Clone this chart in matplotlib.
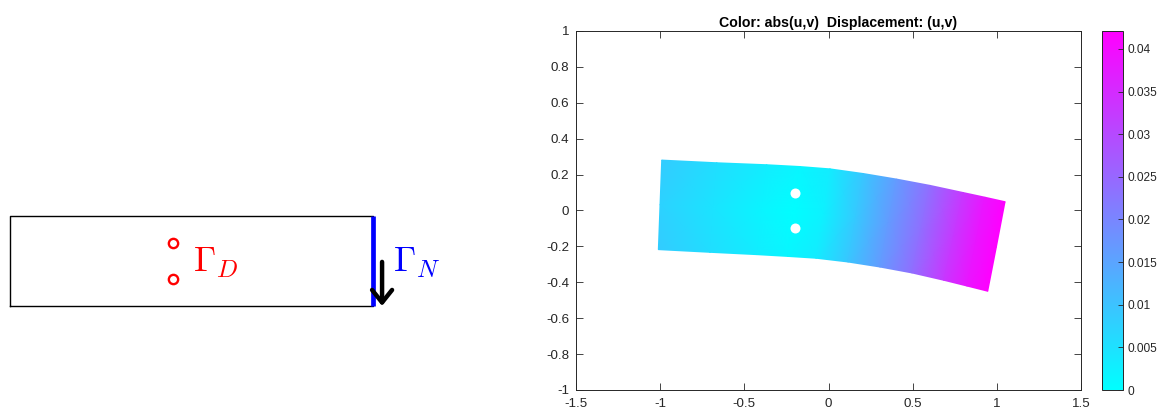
"""Clamped beam sketch next to its deformed displacement field."""

import matplotlib
matplotlib.use("Agg")
import matplotlib.pyplot as plt
import numpy as np

W, H = 1158, 411

# left sketch, in domain units
BEAM_X = [-1, 1, 1, -1, -1]
BEAM_Y = [-0.25, -0.25, 0.25, 0.25, -0.25]
HOLE_X = [-0.1, -0.1]
HOLE_Y = [0.1, -0.1]

# deformed beam read along top, middle and bottom edges
TOP_X = [-0.991, -0.664, -0.367, -0.169, 0.009, 0.207, 0.405, 0.603, 0.801, 0.930, 1.049]
TOP_Y = [0.281, 0.266, 0.255, 0.245, 0.232, 0.206, 0.175, 0.140, 0.100, 0.074, 0.049]
MID_X = [-1.001, -0.684, -0.396, -0.205, -0.033, 0.162, 0.356, 0.550, 0.744, 0.877, 0.998]
MID_Y = [0.032, 0.017, 0.005, -0.006, -0.018, -0.039, -0.070, -0.103, -0.144, -0.173, -0.201]
BOT_X = [-1.011, -0.704, -0.425, -0.241, -0.074, 0.116, 0.306, 0.496, 0.686, 0.823, 0.946]
BOT_Y = [-0.218, -0.233, -0.246, -0.256, -0.266, -0.287, -0.315, -0.348, -0.389, -0.421, -0.450]

# abs(u,v)
TOP_V = [0.0085, 0.0055, 0.0030, 0.0016, 0.0032, 0.0095, 0.0165, 0.0240, 0.0330, 0.0385, 0.0421]
MID_V = [0.0075, 0.0045, 0.0018, 0.0002, 0.0022, 0.0090, 0.0165, 0.0240, 0.0330, 0.0385, 0.0421]
BOT_V = [0.0085, 0.0055, 0.0030, 0.0016, 0.0032, 0.0095, 0.0165, 0.0240, 0.0330, 0.0385, 0.0421]

VMAX = 0.0421
X_TICKS = [-1.5, -1, -0.5, 0, 0.5, 1, 1.5]
Y_TICKS = [-1, -0.8, -0.6, -0.4, -0.2, 0, 0.2, 0.4, 0.6, 0.8, 1]
CB_TICKS = [0, 0.005, 0.01, 0.015, 0.02, 0.025, 0.03, 0.035, 0.04]
TITLE = "Color: abs(u,v)  Displacement: (u,v)"

INK = "#262626"


def px_rect(left, top, right, bottom):
    return [left / W, 1 - bottom / H, (right - left) / W, (bottom - top) / H]


def label(value):
    return f"{value:g}"


plt.rcParams["font.family"] = ["Liberation Sans", "DejaVu Sans"]
plt.rcParams["mathtext.fontset"] = "cm"

fig = plt.figure(figsize=(W / 100, H / 100), dpi=100, facecolor="white")

# sketch
ax = fig.add_axes(px_rect(10, 216, 373, 306))
ax.set_xlim(-1, 1)
ax.set_ylim(-0.25, 0.25)
ax.axis("off")
ax.plot(BEAM_X, BEAM_Y, color="black", linewidth=1.0, clip_on=False)
ax.plot([1, 1], [-0.25, 0.25], color="#0000ff", linewidth=3.4, clip_on=False, solid_capstyle="butt")
ax.plot(HOLE_X, HOLE_Y, "o", markerfacecolor="none", markeredgecolor="#ff0000",
        markersize=6.7, markeredgewidth=1.7, clip_on=False)
ax.annotate("", xy=(1.05, -0.25), xytext=(1.05, -0.005), annotation_clip=False,
            arrowprops=dict(arrowstyle="->,head_width=0.72,head_length=0.9", mutation_scale=10,
                            color="black", linewidth=3.2, shrinkA=0, shrinkB=0))
ax.text(0.01, -0.012, r"$\Gamma_D$", color="#ff0000", fontsize=25.5, va="center", ha="left")
ax.text(1.11, -0.012, r"$\Gamma_N$", color="#0000ff", fontsize=25.5, va="center", ha="left")

# displacement field
ax2 = fig.add_axes(px_rect(576, 31, 1081, 390))
grid_x = np.array([TOP_X, MID_X, BOT_X])
grid_y = np.array([TOP_Y, MID_Y, BOT_Y])
grid_v = np.array([TOP_V, MID_V, BOT_V])
mesh = ax2.pcolormesh(grid_x, grid_y, grid_v, cmap="cool", vmin=0, vmax=VMAX,
                      shading="gouraud", rasterized=True)
ax2.plot([-0.2, -0.2], [0.1, -0.1], "o", color="white", markersize=7.2, markeredgewidth=0)
ax2.set_xlim(-1.5, 1.5)
ax2.set_ylim(-1, 1)
ax2.set_xticks(X_TICKS, [label(v) for v in X_TICKS])
ax2.set_yticks(Y_TICKS, [label(v) for v in Y_TICKS])
ax2.tick_params(direction="in", top=True, right=True, length=5, width=0.6,
                labelsize=9.6, colors=INK)
ax2.tick_params(axis="x", pad=6)
ax2.tick_params(axis="y", pad=5)
for spine in ax2.spines.values():
    spine.set_linewidth(0.7)
    spine.set_color(INK)
ax2.set_title(TITLE, fontsize=10.2, fontweight="bold", color="black", pad=3, x=0.518)

# colourbar
cax = fig.add_axes(px_rect(1102, 31, 1123, 390))
cb = fig.colorbar(mesh, cax=cax)
cb.set_ticks(CB_TICKS, labels=[label(v) for v in CB_TICKS])
cax.tick_params(direction="in", length=3.5, width=0.6, labelsize=8.6, colors=INK, pad=3.5)
cb.outline.set_linewidth(0.7)
cb.outline.set_edgecolor(INK)

fig.savefig("out.png", dpi=100, facecolor="white")
